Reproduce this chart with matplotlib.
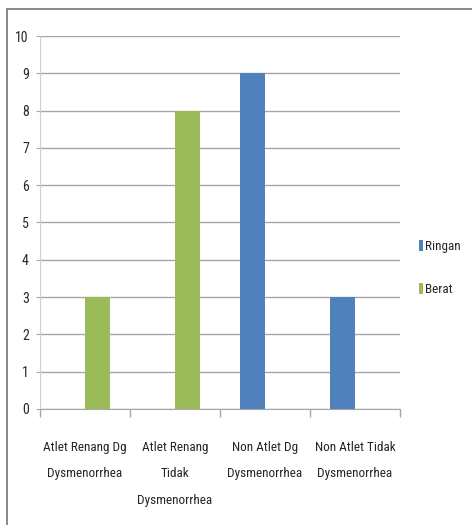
import matplotlib
matplotlib.use('Agg')
import matplotlib.pyplot as plt
from matplotlib import font_manager
from matplotlib.patches import Rectangle
import numpy as np

# pick a narrow face if one is installed, as the original uses a condensed font
names = {f.name for f in font_manager.fontManager.ttflist}
narrow = [n for n in ['Liberation Sans Narrow', 'DejaVu Sans Condensed',
                      'Roboto Condensed', 'Open Sans Condensed']
          if n in names]
if narrow:
    plt.rcParams['font.family'] = [narrow[0], 'DejaVu Sans']
    FS = 9.5
else:
    plt.rcParams['font.family'] = ['Roboto', 'DejaVu Sans']
    plt.rcParams['font.stretch'] = 'condensed'
    FS = 8.8

categories = [
    'Atlet Renang Dg\nDysmenorrhea',
    'Atlet Renang\nTidak\nDysmenorrhea',
    'Non Atlet Dg\nDysmenorrhea',
    'Non Atlet Tidak\nDysmenorrhea',
]
ringan = [0, 0, 9, 3]
berat = [3, 8, 0, 0]
yticks = list(range(0, 11))

BLUE = '#4F81BD'
GREEN = '#9BBB59'
GRID = '#a6a6a6'
TXT = '#262626'

fig = plt.figure(figsize=(4.72, 5.25), dpi=100)
ax = fig.add_axes([40 / 472, 1 - 409 / 525, 360 / 472, 373 / 525])

x = np.arange(len(categories))
w = 0.28
ax.bar(x - w / 2, ringan, width=w, color=BLUE, label='Ringan', zorder=3)
ax.bar(x + w / 2, berat, width=w, color=GREEN, label='Berat', zorder=3)

ax.set_xlim(-0.5, len(categories) - 0.5)
ax.set_ylim(0, 10)
ax.set_yticks(yticks)
ax.yaxis.grid(True, color=GRID, linewidth=1.0, zorder=0)

# category boundaries get the tick marks, centres get the labels
ax.set_xticks(np.arange(-0.5, len(categories)), labels=[''] * (len(categories) + 1))
ax.set_xticks(x, labels=categories, minor=True)
ax.tick_params(axis='x', which='major', length=6, color=GRID, width=1)
ax.tick_params(axis='x', which='minor', length=0, pad=23,
               labelsize=FS, labelcolor=TXT)
ax.tick_params(axis='y', length=3, color=GRID, labelsize=FS + 0.5,
               labelcolor=TXT, pad=5)
for lab in ax.get_xticklabels(minor=True):
    lab.set_linespacing(2.35)

for s in ['top', 'right']:
    ax.spines[s].set_visible(False)
ax.spines['left'].set_color('#d0d0d0')
ax.spines['bottom'].set_color(GRID)

leg = fig.legend(loc='center left', bbox_to_anchor=(412 / 472, 1 - 268 / 525),
                 frameon=False, fontsize=FS, handlelength=0.35,
                 handleheight=0.9, handletextpad=0.15, labelspacing=2.25,
                 borderpad=0)
for t in leg.get_texts():
    t.set_color(TXT)

# outer chart border (right and bottom edges fall outside the picture)
fig.add_artist(Rectangle((7 / 472, -0.2), 1.2, 1.2 - 9 / 525,
                         transform=fig.transFigure, fill=False,
                         edgecolor='#808080', linewidth=1.3))

fig.savefig('out.png', dpi=100)
